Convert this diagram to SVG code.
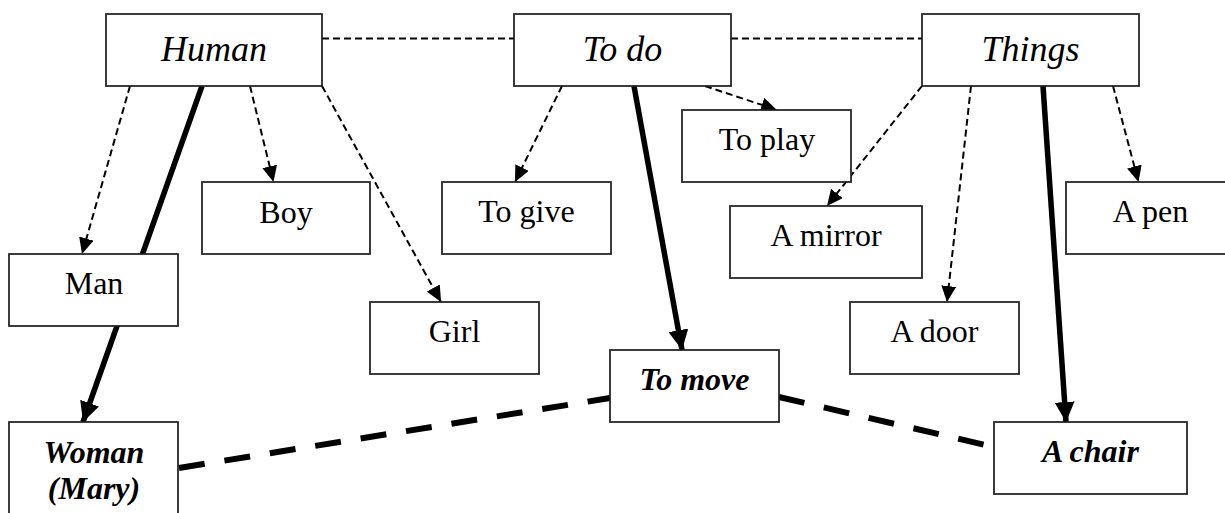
<svg xmlns="http://www.w3.org/2000/svg" width="1225" height="513" viewBox="0 0 1225 513">
<style>
.box{fill:#fff;stroke:#1a1a1a;stroke-width:1.7}
.t{font-family:"Liberation Serif","Times New Roman",serif;text-anchor:middle;fill:#000}
.top{font-size:36px;font-style:italic}
.reg{font-size:32px}
.bi{font-size:32px;font-style:italic;font-weight:bold}
.thin{fill:none;stroke:#000;stroke-width:2;stroke-dasharray:7 4}
.thick{fill:none;stroke:#000;stroke-width:5.5}
.thickdash{fill:none;stroke:#000;stroke-width:6;stroke-dasharray:26 20}
</style>
<defs>
<marker id="ah" markerUnits="userSpaceOnUse" markerWidth="16" markerHeight="15" viewBox="0 0 16 15" refX="16" refY="7.5" orient="auto">
<path d="M0,0 L16,7.5 L0,15 z" fill="#000"/>
</marker>
<marker id="ahb" markerUnits="userSpaceOnUse" markerWidth="20" markerHeight="20" viewBox="0 0 20 20" refX="20" refY="10" orient="auto">
<path d="M0,0 L20,10 L0,20 z" fill="#000"/>
</marker>
</defs>
<rect width="1225" height="513" fill="#fff"/>
<g id="connectors">
<line class="thin" x1="322" y1="38.5" x2="514" y2="38.5"/>
<line class="thin" x1="731" y1="38.5" x2="922" y2="38.5"/>
<line class="thin" x1="130" y1="86" x2="82" y2="254" marker-end="url(#ah)"/>
<line class="thin" x1="250" y1="86" x2="273.5" y2="182" marker-end="url(#ah)"/>
<line class="thin" x1="322" y1="86" x2="441" y2="302" marker-end="url(#ah)"/>
<line class="thin" x1="562" y1="86" x2="515" y2="182" marker-end="url(#ah)"/>
<line class="thin" x1="705" y1="86" x2="777" y2="110" marker-end="url(#ah)"/>
<line class="thin" x1="922" y1="86" x2="827" y2="206" marker-end="url(#ah)"/>
<line class="thin" x1="971" y1="86" x2="947" y2="302" marker-end="url(#ah)"/>
<line class="thin" x1="1113" y1="86" x2="1138.5" y2="182" marker-end="url(#ah)"/>
<line class="thick" x1="202" y1="86" x2="83" y2="422" marker-end="url(#ahb)"/>
<line class="thick" x1="634" y1="86" x2="682" y2="350" marker-end="url(#ahb)"/>
<line class="thick" x1="1043" y1="86" x2="1066" y2="422" marker-end="url(#ahb)"/>
<line class="thickdash" x1="179" y1="468" x2="610" y2="398"/>
<line class="thickdash" x1="779" y1="397" x2="994" y2="447"/>
</g>
<g id="human"><rect class="box" x="106" y="14" width="216" height="72"/><text class="t top" x="214" y="61">Human</text></g>
<g id="todo"><rect class="box" x="514" y="14" width="217" height="72"/><text class="t top" x="622.5" y="61">To do</text></g>
<g id="things"><rect class="box" x="922" y="14" width="217" height="72"/><text class="t top" x="1030.5" y="61">Things</text></g>
<g id="toplay"><rect class="box" x="682" y="110" width="169" height="72"/><text class="t reg" x="767" y="149.5">To play</text></g>
<g id="boy"><rect class="box" x="202" y="182" width="168" height="72"/><text class="t reg" x="286" y="222.5">Boy</text></g>
<g id="togive"><rect class="box" x="442" y="182" width="169" height="72"/><text class="t reg" x="526.5" y="222">To give</text></g>
<g id="apen"><rect class="box" x="1066" y="182" width="169" height="72"/><text class="t reg" x="1150.5" y="222">A pen</text></g>
<g id="amirror"><rect class="box" x="730" y="206" width="192" height="72"/><text class="t reg" x="826" y="245.5">A mirror</text></g>
<g id="man"><rect class="box" x="9" y="254" width="169" height="72"/><text class="t reg" x="94" y="293.5">Man</text></g>
<g id="girl"><rect class="box" x="370" y="302" width="169" height="72"/><text class="t reg" x="454.5" y="341.5">Girl</text></g>
<g id="adoor"><rect class="box" x="850" y="302" width="169" height="72"/><text class="t reg" x="934.5" y="341.5">A door</text></g>
<g id="tomove"><rect class="box" x="610" y="350" width="169" height="72"/><text class="t bi" x="694.5" y="390">To move</text></g>
<g id="woman"><rect class="box" x="9" y="422" width="169" height="110"/><text class="t bi" x="94" y="463">Woman</text><text class="t bi" x="94" y="499">(Mary)</text></g>
<g id="achair"><rect class="box" x="994" y="422" width="193" height="72"/><text class="t bi" x="1090.5" y="462">A chair</text></g>
</svg>
